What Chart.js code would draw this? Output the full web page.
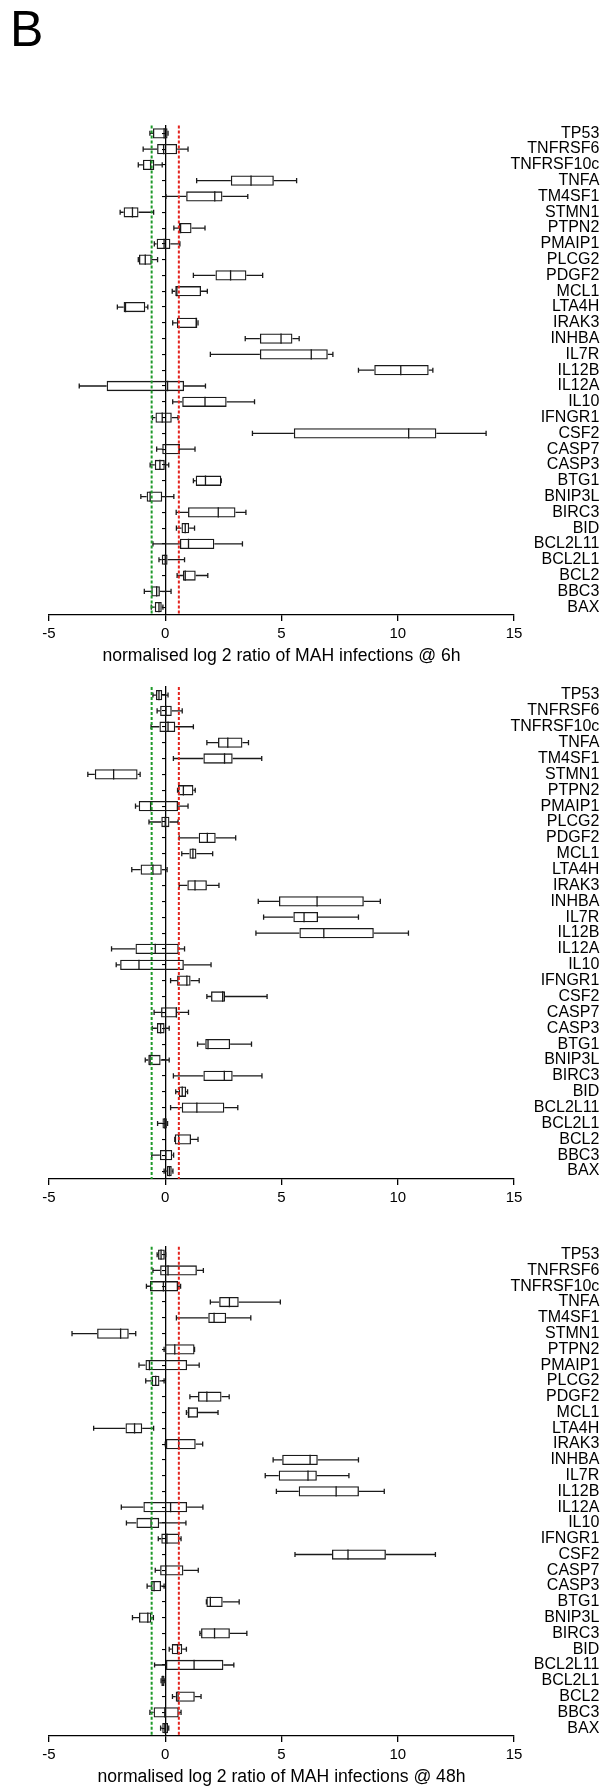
<!DOCTYPE html>
<html>
<head>
<meta charset="utf-8">
<script src="https://cdn.jsdelivr.net/npm/chart.js@4.4.1/dist/chart.umd.min.js"></script>
<style>
html,body{margin:0;padding:0;background:#fff;}
body{width:605px;height:1789px;overflow:hidden;position:relative;}
#stage{position:absolute;left:0;top:0;width:605px;height:1789px;}
#stage canvas{position:absolute;left:0;}
#panelLabel{position:absolute;left:10px;top:4px;font:50px/50px "Liberation Sans",Arial,sans-serif;color:#000;}
</style>
</head>
<body>
<div id="stage">
  <div id="panelLabel">B</div>
  <canvas id="c1"></canvas>
  <canvas id="c2"></canvas>
  <canvas id="c3"></canvas>
</div>
<script>
// ---------- DATA ----------
const genes = ["TP53","TNFRSF6","TNFRSF10c","TNFA","TM4SF1","STMN1","PTPN2","PMAIP1","PLCG2","PDGF2","MCL1","LTA4H","IRAK3","INHBA","IL7R","IL12B","IL12A","IL10","IFNGR1","CSF2","CASP7","CASP3","BTG1","BNIP3L","BIRC3","BID","BCL2L11","BCL2L1","BCL2","BBC3","BAX"];

// each entry: [whisker min, Q1, median, Q3, whisker max]
const box6h = [
  [-0.66,-0.53,-0.05,0.10,0.12],
  [-0.95,-0.35,-0.07,0.51,0.98],
  [-1.16,-0.96,-0.63,-0.47,-0.13],
  [1.35,2.82,3.69,4.67,5.65],
  [0.03,0.90,2.13,2.46,3.55],
  [-1.94,-1.79,-1.41,-1.15,-0.50],
  [0.37,0.58,0.66,1.13,1.71],
  [-0.47,-0.37,-0.05,0.22,0.63],
  [-1.16,-1.13,-0.86,-0.58,-0.33],
  [1.21,2.16,2.81,3.49,4.19],
  [0.30,0.43,0.50,1.54,1.81],
  [-2.06,-1.79,-1.71,-0.86,-0.75],
  [0.32,0.50,1.33,1.38,1.41],
  [3.44,4.07,4.98,5.47,5.76],
  [1.94,4.07,6.28,6.99,7.21],
  [8.31,8.99,10.13,11.33,11.51],
  [-3.70,-2.52,0.10,0.81,1.73],
  [0.32,0.73,1.71,2.64,3.84],
  [-0.55,-0.42,-0.13,0.28,0.55],
  [3.75,5.53,10.47,11.66,13.80],
  [-0.37,-0.13,0.60,0.63,1.28],
  [-0.65,-0.45,-0.23,-0.02,0.15],
  [1.21,1.31,1.73,2.41,2.41],
  [-1.05,-0.80,-0.65,-0.13,0.37],
  [0.47,0.98,2.28,3.02,3.47],
  [0.48,0.70,0.86,1.03,1.26],
  [-0.53,0.63,1.00,2.11,3.32],
  [-0.27,-0.15,0.00,0.10,0.83],
  [0.51,0.76,0.86,1.31,1.83],
  [-0.90,-0.60,-0.37,-0.23,0.25],
  [-0.60,-0.45,-0.27,-0.15,-0.10]
];

const boxMid = [
  [-0.53,-0.40,-0.27,-0.13,0.12],
  [-0.35,-0.22,0.03,0.28,0.73],
  [-0.61,-0.25,0.12,0.43,1.21],
  [1.79,2.27,2.69,3.32,3.58],
  [0.35,1.64,2.55,2.90,4.15],
  [-3.33,-3.03,-2.22,-1.19,-1.08],
  [0.53,0.55,0.78,1.21,1.29],
  [-1.28,-1.14,-0.63,0.55,0.98],
  [-0.70,-0.17,0.00,0.18,0.55],
  [0.60,1.44,1.81,2.17,3.03],
  [0.71,1.04,1.19,1.34,2.04],
  [-1.44,-1.06,-0.53,-0.15,0.08],
  [0.60,0.95,1.28,1.79,2.31],
  [4.00,4.89,6.53,8.54,9.25],
  [4.23,5.51,5.97,6.57,8.31],
  [3.90,5.77,6.82,8.97,10.46],
  [-2.31,-1.28,-0.43,0.58,0.83],
  [-2.11,-1.94,-1.13,0.80,1.97],
  [0.23,0.51,0.93,1.09,1.46],
  [1.79,1.97,2.47,2.57,4.38],
  [-0.48,-0.18,0.48,0.51,1.00],
  [-0.56,-0.36,-0.20,-0.03,0.17],
  [1.39,1.72,1.84,2.79,3.71],
  [-0.86,-0.73,-0.65,-0.20,0.17],
  [0.35,1.64,2.54,2.90,4.16],
  [0.45,0.58,0.73,0.90,0.96],
  [0.23,0.71,1.36,2.54,3.12],
  [-0.33,-0.12,-0.02,0.07,0.10],
  [0.41,0.41,0.58,1.11,1.41],
  [-0.58,-0.23,0.02,0.30,0.36],
  [-0.05,0.07,0.18,0.28,0.33]
];

const box48h = [
  [-0.35,-0.31,-0.18,-0.02,0.02],
  [-0.53,-0.22,0.12,1.36,1.64],
  [-0.81,-0.66,-0.08,0.55,0.66],
  [1.94,2.32,2.76,3.16,4.95],
  [0.48,1.85,2.10,2.62,3.68],
  [-4.01,-2.93,-1.92,-1.57,-1.27],
  [-0.05,-0.02,0.41,1.26,1.26],
  [-1.13,-0.85,-0.68,0.94,1.46],
  [-0.84,-0.58,-0.41,-0.25,-0.05],
  [1.06,1.41,1.79,2.42,2.75],
  [0.91,0.96,1.01,1.41,2.27],
  [-3.08,-1.71,-1.32,-0.99,-0.50],
  [0.00,0.00,0.58,1.31,1.61],
  [4.64,5.03,6.23,6.56,8.31],
  [4.30,4.88,6.14,6.52,7.90],
  [4.78,5.74,7.35,8.33,9.42],
  [-1.89,-0.94,0.23,0.94,1.62],
  [-1.67,-1.24,-0.61,-0.26,0.89],
  [-0.30,-0.17,0.07,0.61,0.68],
  [5.58,7.17,7.86,9.49,11.62],
  [-0.43,-0.22,0.02,0.78,1.42],
  [-0.78,-0.61,-0.48,-0.18,-0.05],
  [1.77,1.77,1.94,2.47,3.18],
  [-1.41,-1.13,-0.75,-0.60,-0.51],
  [1.49,1.54,2.12,2.78,3.51],
  [0.17,0.28,0.53,0.73,0.91],
  [-0.46,0.03,1.24,2.50,2.95],
  [-0.18,-0.17,-0.10,-0.03,-0.02],
  [0.31,0.45,0.55,1.27,1.54],
  [-0.66,-0.50,-0.02,0.58,0.68],
  [-0.20,-0.13,-0.02,0.12,0.15]
];

const xTicks = [-5, 0, 5, 10, 15];
const thresholds = [-0.585, 0.585];
const titles = ["normalised log 2 ratio of MAH infections @ 6h", "", "normalised log 2 ratio of MAH infections @ 48h"];

// ---------- STYLE / LAYOUT ----------
const FONT = '"Liberation Sans", Arial, Helvetica, sans-serif';
Chart.defaults.font.family = FONT;
Chart.defaults.color = '#000';
const thresholdColors = ['#1e9a2a', '#e3231d'];
const W = 605;
const padLeft = 49, padRight = 5.7, labelAxisWidth = 85.3;
const xTickLen = 6;

const geoms = [
  {chartTop:125.4, chartBottom:615.0, tickCenter:634.0, titleCenter:656.5},
  {chartTop:687.1, chartBottom:1179.0, tickCenter:1197.5, titleCenter:null},
  {chartTop:1246.8, chartBottom:1736.0, tickCenter:1754.5, titleCenter:1777.3}
];

function boxPlugin(boxes){
  return {
    id: 'boxWhisker',
    afterDatasetsDraw(chart){
      const ctx = chart.ctx, xs = chart.scales.x, area = chart.chartArea;
      const meta = chart.getDatasetMeta(0);
      ctx.save();
      ctx.strokeStyle = '#1a1a1a';
      ctx.lineWidth = 1.3;
      boxes.forEach((b, i) => {
        const el = meta.data[i];
        if (!el) return;
        const y = el.y, h = el.height;
        const [mn, q1, md, q3, mx] = b.map(v => xs.getPixelForValue(v));
        const cap = h * 0.5;
        ctx.beginPath();
        ctx.moveTo(mn, y); ctx.lineTo(q1, y);
        ctx.moveTo(q3, y); ctx.lineTo(mx, y);
        ctx.moveTo(mn, y - cap/2); ctx.lineTo(mn, y + cap/2);
        ctx.moveTo(mx, y - cap/2); ctx.lineTo(mx, y + cap/2);
        ctx.moveTo(md, y - h/2); ctx.lineTo(md, y + h/2);
        ctx.stroke();
      });
      thresholds.forEach((t, k) => {
        const x = xs.getPixelForValue(t);
        ctx.beginPath();
        ctx.setLineDash([3, 2]);
        ctx.strokeStyle = thresholdColors[k];
        ctx.lineWidth = 2;
        ctx.moveTo(x, area.top);
        ctx.lineTo(x, area.bottom);
        ctx.stroke();
      });
      ctx.restore();
    }
  };
}

function makePanel(id, boxes, title, g){
  const cv = document.getElementById(id);
  const top = Math.floor(g.chartTop - 14);
  const padTop = g.chartTop - top;
  const plotH = g.chartBottom - g.chartTop;
  const H = (g.titleCenter ? g.titleCenter + 10.6 : g.tickCenter + 12) - g.chartBottom;
  const h = Math.min(Math.ceil(padTop + plotH + H + 1), 1789 - top);
  const padBottom = Math.max(0, h - padTop - plotH - H);
  cv.width = W; cv.height = h;
  cv.style.width = W + 'px'; cv.style.height = h + 'px';
  cv.style.top = top + 'px';
  const tickPad = g.tickCenter - g.chartBottom - xTickLen - 9;

  new Chart(cv, {
    type: 'bar',
    data: {
      labels: genes,
      datasets: [{
        data: boxes.map(b => [b[1], b[3]]),
        backgroundColor: 'rgba(255,255,255,0)',
        borderColor: '#1a1a1a',
        borderWidth: 1.3,
        borderSkipped: false,
        barPercentage: 0.65,
        categoryPercentage: 1.0
      }]
    },
    options: {
      indexAxis: 'y',
      responsive: false,
      animation: false,
      devicePixelRatio: 1,
      layout: {padding: {left: padLeft, right: padRight, top: padTop, bottom: padBottom}},
      plugins: {legend: {display: false}, tooltip: {enabled: false}, title: {display: false}},
      scales: {
        x: {
          type: 'linear',
          position: 'bottom',
          min: xTicks[0],
          max: xTicks[xTicks.length - 1],
          afterBuildTicks: (s) => { s.ticks = xTicks.map(v => ({value: v})); },
          ticks: {font: {size: 15}, color: '#000', padding: tickPad, maxRotation: 0},
          grid: {drawOnChartArea: false, drawTicks: true, tickLength: xTickLen, color: '#000', lineWidth: 1.3},
          border: {display: true, color: '#000', width: 1.3},
          title: {display: !!title, text: title, font: {size: 17.6}, color: '#000', padding: {top: 0, bottom: 0}},
          afterFit: (s) => { s.height = H; }
        },
        y: {
          type: 'category',
          position: {x: 0},
          offset: true,
          ticks: {display: false, autoSkip: false},
          grid: {offset: false, drawOnChartArea: false, drawTicks: true, tickLength: 3, color: '#000', lineWidth: 1.1},
          border: {display: true, color: '#000', width: 1.3}
        },
        y2: {
          type: 'category',
          position: 'right',
          labels: genes,
          offset: true,
          ticks: {autoSkip: false, crossAlign: 'far', font: {size: 16}, color: '#000', padding: 0},
          grid: {display: false, drawOnChartArea: false},
          border: {display: false},
          afterFit: (s) => {
            s.width = labelAxisWidth;
            // let the longest gene names extend slightly past the axis box, as in the original
            s._computeLabelArea = () => undefined;
          }
        }
      }
    },
    plugins: [boxPlugin(boxes)]
  });
}

makePanel('c1', box6h, titles[0], geoms[0]);
makePanel('c2', boxMid, titles[1], geoms[1]);
makePanel('c3', box48h, titles[2], geoms[2]);
</script>
</body>
</html>
